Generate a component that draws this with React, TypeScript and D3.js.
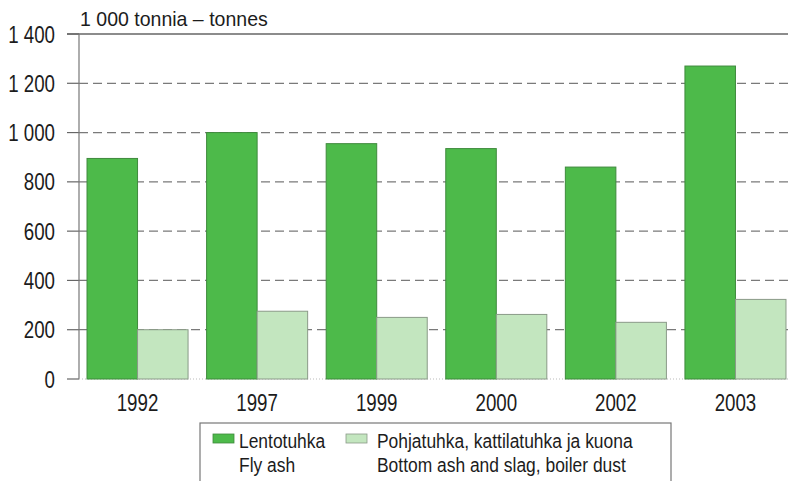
import React from "react";
import * as d3 from "d3";

const years = ["1992", "1997", "1999", "2000", "2002", "2003"];
const flyAsh = [895, 1000, 955, 935, 860, 1270];
const bottomAsh = [200, 275, 250, 262, 230, 323];
const yTicks = [0, 200, 400, 600, 800, 1000, 1200, 1400];
const legendFi = ["Lentotuhka", "Pohjatuhka, kattilatuhka ja kuona"];
const legendEn = ["Fly ash", "Bottom ash and slag, boiler dust"];
const unitTitle = "1 000 tonnia – tonnes";

const W = 788;
const H = 481;
const FONT = "'Liberation Sans', Arial, sans-serif";
const DARK = "#4dba4a";
const LIGHT = "#c3e6bf";
const TEXT = "#1c1c1c";

const fmt = (v: number) => (v >= 1000 ? `${Math.floor(v / 1000)} ${String(v % 1000).padStart(3, "0")}` : String(v));

// condensed text: the original uses a narrow grotesque, so squeeze Liberation Sans horizontally
const T = ({ x, y, size, sx = 0.78, anchor = "start", dy, children }: any) => (
  <text transform={`translate(${x},${y}) scale(${sx},1)`} dy={dy} fontSize={size} textAnchor={anchor} fill={TEXT}>
    {children}
  </text>
);

export default function App() {
  const left = 79;
  const top = 34;
  const bottom = 379;

  const y = d3.scaleLinear().domain([0, 1400]).range([bottom, top]);
  const x = d3.scaleBand().domain(years).range([left, 794]).paddingInner(0.155).paddingOuter(0.067);
  const sub = d3.scaleBand().domain(["fly", "bottom"]).range([0, x.bandwidth()]);

  return (
    <svg width={W} height={H} style={{ display: "block", position: "absolute", left: 0, top: 0, background: "#fff" }} fontFamily={FONT}>
      <T x={80} y={26} size={21} sx={0.93}>{unitTitle}</T>

      {/* grid and ticks */}
      {yTicks.map((t) => (
        <g key={t}>
          {t > 0 && t < 1400 && (
            <line x1={left} x2={W} y1={y(t)} y2={y(t)} stroke="#7a7a7a" strokeWidth={1.3} strokeDasharray="9,5" />
          )}
          <line x1={67} x2={left} y1={y(t)} y2={y(t)} stroke="#666" strokeWidth={1.2} />
          <T x={55} y={y(t)} dy="0.36em" anchor="end" size={24}>{fmt(t)}</T>
        </g>
      ))}
      <line x1={67} x2={W} y1={y(1400)} y2={y(1400)} stroke="#666" strokeWidth={1.3} />
      <line x1={left} x2={left} y1={top} y2={bottom} stroke="#777" strokeWidth={1.2} />
      <line x1={left} x2={W} y1={bottom} y2={bottom} stroke="#bbb" strokeWidth={1} strokeDasharray="1,2" />

      {/* bars */}
      {years.map((yr, i) => (
        <g key={yr} transform={`translate(${x(yr)},0)`}>
          <rect x={sub("fly")} y={y(flyAsh[i])} width={sub.bandwidth()} height={bottom - y(flyAsh[i])} fill={DARK} stroke="#3f8a3d" strokeWidth={1} />
          <rect x={sub("bottom")} y={y(bottomAsh[i])} width={sub.bandwidth()} height={bottom - y(bottomAsh[i])} fill={LIGHT} stroke="#8a9a88" strokeWidth={1} />
          <T x={x.bandwidth() / 2} y={411} anchor="middle" size={24}>{yr}</T>
        </g>
      ))}

      {/* legend */}
      <rect x={200} y={423} width={471} height={62} fill="#fff" stroke="#777" strokeWidth={1.2} />
      <rect x={213} y={434} width={21} height={9} fill={DARK} stroke="#3f8a3d" strokeWidth={0.8} />
      <T x={239} y={448} size={21} sx={0.83}>{legendFi[0]}</T>
      <T x={239} y={472} size={21} sx={0.83}>{legendEn[0]}</T>
      <rect x={346} y={434} width={21} height={9} fill={LIGHT} stroke="#8a9a88" strokeWidth={0.8} />
      <T x={377} y={448} size={21} sx={0.83}>{legendFi[1]}</T>
      <T x={377} y={472} size={21} sx={0.83}>{legendEn[1]}</T>
    </svg>
  );
}
